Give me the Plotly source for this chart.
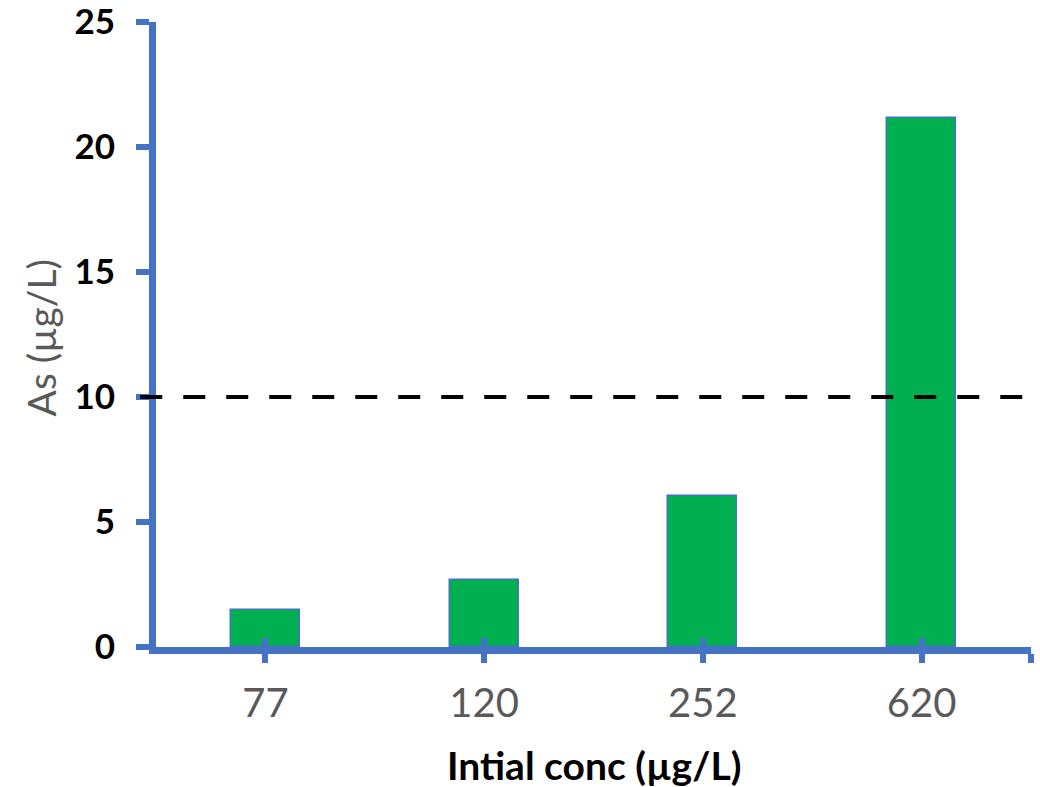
import plotly.graph_objects as go

# Initial arsenic concentration groups and the residual As after treatment
categories = ["77", "120", "252", "620"]
residual_as = [1.5, 2.7, 6.05, 21.15]
y_ticks = [0, 5, 10, 15, 20, 25]
limit_value = 10  # drinking-water guideline, µg/L

BLUE = "#4472C4"
GREEN = "#00B050"
GREY = "#595959"
FONT = "Lato"

positions = list(range(len(categories)))

fig = go.Figure()
fig.add_trace(go.Bar(
    x=positions,
    y=residual_as,
    width=0.315,
    marker=dict(color=GREEN, line=dict(color=BLUE, width=1.5)),
    showlegend=False,
))

# guideline line across the plot
fig.add_shape(
    type="line", xref="paper", yref="y",
    x0=-0.018, x1=1.02, y0=limit_value, y1=limit_value,
    line=dict(color="black", width=4, dash="22px,21px"),
    layer="above",
)

tick_positions = positions + [len(categories) - 0.5]
tick_labels = categories + [""]

fig.update_layout(
    width=1040, height=787,
    margin=dict(l=156, r=9, t=22, b=140),
    paper_bgcolor="white", plot_bgcolor="white",
    bargap=0,
    xaxis=dict(
        range=[-0.5, len(categories) - 0.5],
        tickmode="array", tickvals=tick_positions, ticktext=tick_labels,
        showline=True, linecolor=BLUE, linewidth=7,
        ticks="outside", ticklen=9, tickwidth=6, tickcolor=BLUE,
        ticklabelstandoff=6,
        tickfont=dict(family=FONT, size=40, color=GREY),
        showgrid=False, zeroline=False, automargin=False,
    ),
    xaxis2=dict(
        overlaying="x", anchor="y", side="bottom",
        range=[-0.5, len(categories) - 0.5],
        tickmode="array", tickvals=tick_positions, ticktext=[""] * len(tick_positions),
        showline=False,
        ticks="inside", ticklen=9, tickwidth=6, tickcolor=BLUE,
        showgrid=False, zeroline=False, automargin=False,
    ),
    yaxis=dict(
        range=[0, 25],
        tickmode="array", tickvals=y_ticks,
        showline=True, linecolor=BLUE, linewidth=7,
        ticks="outside", ticklen=13, tickwidth=6, tickcolor=BLUE,
        ticklabelstandoff=14, ticklabeloverflow="allow",
        tickfont=dict(family=FONT, size=35, color="black", weight="bold"),
        showgrid=False, zeroline=False, automargin=False,
    ),
    annotations=[
        dict(text="Intial conc (µg/L)", xref="paper", yref="paper",
             x=0.5, y=0, xanchor="center", yanchor="middle", yshift=-118,
             showarrow=False,
             font=dict(family=FONT, size=39, color="black", weight="bold")),
        dict(text="As (µg/L)", xref="paper", yref="paper",
             x=0, y=0.5, xanchor="center", yanchor="middle",
             xshift=-116, yshift=-4, textangle=-90,
             showarrow=False,
             font=dict(family=FONT, size=39, color=GREY)),
    ],
)

# empty trace to activate the second x axis
fig.add_trace(go.Scatter(x=[None], y=[None], xaxis="x2", showlegend=False))

fig.write_html("out.html")
